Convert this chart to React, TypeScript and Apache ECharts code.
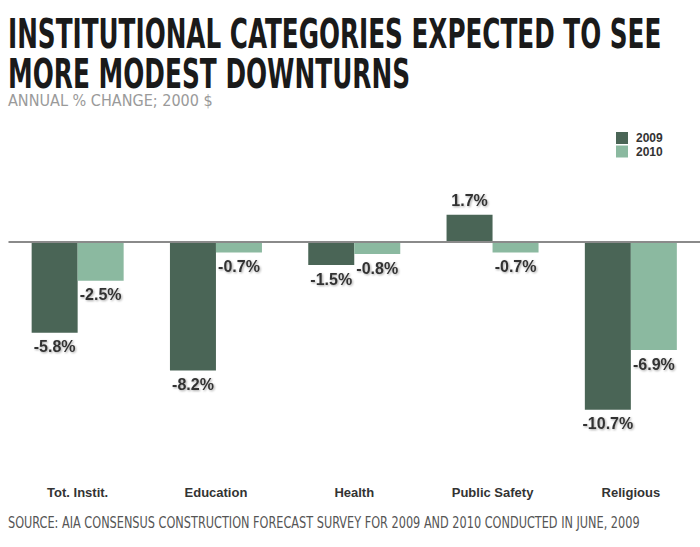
import React, { useEffect, useRef } from "react";
import * as echarts from "echarts";

const categories = ["Tot. Instit.", "Education", "Health", "Public Safety", "Religious"];
const seriesNames = ["2009", "2010"];
const values2009 = [-5.8, -8.2, -1.5, 1.7, -10.7];
const values2010 = [-2.5, -0.7, -0.8, -0.7, -6.9];
const titleLines = ["INSTITUTIONAL CATEGORIES EXPECTED TO SEE", "MORE MODEST DOWNTURNS"];
const subtitle = "ANNUAL % CHANGE; 2000 $";
const source = "SOURCE: AIA CONSENSUS CONSTRUCTION FORECAST SURVEY FOR 2009 AND 2010 CONDUCTED IN JUNE, 2009";

const NARROW = "'Liberation Sans Narrow', 'DejaVu Sans Condensed', 'Liberation Sans', sans-serif";

function fitScale(text: string, font: string, target: number): number {
  const c = document.createElement("canvas");
  const ctx = c.getContext("2d");
  if (!ctx) return 1;
  ctx.font = font;
  const w = ctx.measureText(text).width;
  return w > 0 ? target / w : 1;
}

export default function App() {
  const ref = useRef<HTMLDivElement>(null);
  useEffect(() => {
    if (!ref.current) return;
    const chart = echarts.init(ref.current, undefined, { renderer: "svg" });

    const titleFont = `bold 40px ${NARROW}`;
    const subFont = `16px ${NARROW}`;
    const srcFont = `15px ${NARROW}`;
    const t1 = fitScale(titleLines[0], titleFont, 654);
    const t2 = fitScale(titleLines[1], titleFont, 402);
    const ts = fitScale(subtitle, subFont, 205);
    const sc = fitScale(source, srcFont, 632);

    const labelStyle = {
      show: true,
      formatter: (p: any) => `${p.value}%`,
      color: "#333",
      fontSize: 16,
      fontWeight: "bold" as const,
      fontFamily: "'Liberation Sans', Arial, sans-serif",
      distance: 6,
      textShadowColor: "rgba(0,0,0,0.35)",
      textShadowBlur: 2,
      textShadowOffsetX: 1,
      textShadowOffsetY: 1,
    };

    const mk = (vals: number[]) =>
      vals.map((v) => ({ value: v, label: { position: v < 0 ? "bottom" : "top" } }));

    chart.setOption({
      animation: false,
      backgroundColor: "#fff",
      grid: { left: 8.5, right: 0, top: 194.3, bottom: 69.5, containLabel: false },
      legend: {
        orient: "vertical",
        left: 611,
        top: 127,
        itemWidth: 12,
        itemHeight: 12,
        itemGap: 1.5,
        icon: "rect",
        data: seriesNames,
        textStyle: {
          color: "#333",
          fontSize: 12,
          fontWeight: "bold",
          fontFamily: "'Liberation Sans', Arial, sans-serif",
          padding: [0, 0, 0, 3],
        },
      },
      xAxis: {
        type: "category",
        data: categories,
        position: "bottom",
        axisLine: { show: false, onZero: false },
        axisTick: { show: false },
        axisLabel: {
          margin: 8,
          color: "#333",
          fontSize: 13,
          fontWeight: "bold",
          fontFamily: "'Liberation Sans', Arial, sans-serif",
        },
      },
      yAxis: {
        type: "value",
        min: -15,
        max: 3,
        show: false,
        splitLine: { show: false },
      },
      series: [
        {
          name: seriesNames[0],
          type: "bar",
          data: mk(values2009),
          barWidth: 46,
          barGap: "0%",
          itemStyle: { color: "#4a6556" },
          label: labelStyle,
          markLine: {
            silent: true,
            symbol: "none",
            label: { show: false },
            lineStyle: { color: "#8a8a8a", width: 2, type: "solid" },
            data: [{ yAxis: 0 }],
          },
        },
        {
          name: seriesNames[1],
          type: "bar",
          data: mk(values2010),
          barWidth: 46,
          barGap: "0%",
          itemStyle: { color: "#8bb9a0" },
          label: labelStyle,
        },
      ],
      graphic: [
        {
          type: "text",
          left: 8,
          top: 14,
          scaleX: t1,
          style: { text: titleLines[0], font: titleFont, fill: "#1a1a1a" },
        },
        {
          type: "text",
          left: 8,
          top: 54,
          scaleX: t2,
          style: { text: titleLines[1], font: titleFont, fill: "#1a1a1a" },
        },
        {
          type: "text",
          left: 8,
          top: 92,
          scaleX: ts,
          style: { text: subtitle, font: subFont, fill: "#9a9a9a" },
        },
        {
          type: "text",
          left: 8,
          top: 515,
          scaleX: sc,
          style: { text: source, font: srcFont, fill: "#555" },
        },
      ],
    });
    return () => chart.dispose();
  }, []);
  return (
    <div
      ref={ref}
      style={{ position: "fixed", left: 0, top: 0, width: 700, height: 547 }}
    />
  );
}
